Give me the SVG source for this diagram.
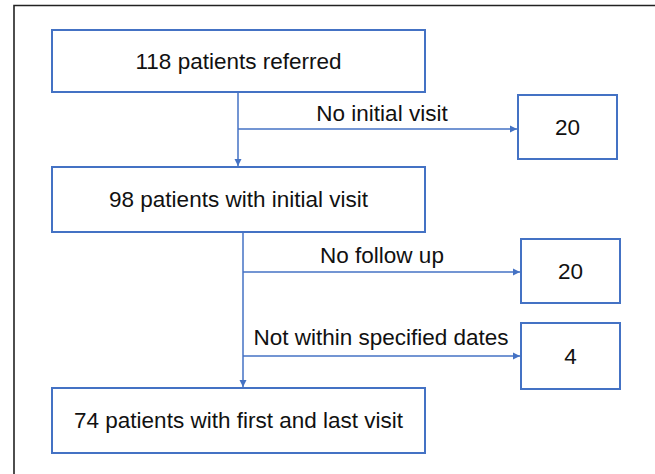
<svg xmlns="http://www.w3.org/2000/svg" width="655" height="474" viewBox="0 0 655 474">
<style>
.box{fill:#fff;stroke:#4472C4;stroke-width:2}
.t{font-family:"Liberation Sans",Arial,sans-serif;font-size:22.5px;fill:#111;text-anchor:middle}
.c{stroke:#4472C4;stroke-width:1.5;fill:none;marker-end:url(#ah)}
.l{stroke:#4472C4;stroke-width:1.5;fill:none}
</style>
<defs>
<marker id="ah" viewBox="0 0 10 10" refX="10" refY="5" markerWidth="5" markerHeight="5" orient="auto" markerUnits="strokeWidth">
<path d="M0,0 L10,5 L0,10 z" fill="#4472C4"/>
</marker>
</defs>
<rect width="655" height="474" fill="#fff"/>
<path d="M14,474 V5.5 H655" fill="none" stroke="#222" stroke-width="1.6"/>
<g id="connectors">
<line class="c" x1="238" y1="92" x2="238" y2="166"/>
<line class="c" x1="238" y1="129" x2="517" y2="129"/>
<line class="c" x1="243" y1="232" x2="243" y2="387"/>
<line class="c" x1="243" y1="272" x2="520" y2="272"/>
<line class="c" x1="243" y1="356" x2="520" y2="356"/>
<text class="t" x="382" y="121">No initial visit</text>
<text class="t" x="382" y="263">No follow up</text>
<text class="t" x="381" y="345">Not within specified dates</text>
</g>
<g id="n1"><rect class="box" x="52" y="30" width="373" height="62"/><text class="t" x="238.5" y="69">118 patients referred</text></g>
<g id="n2"><rect class="box" x="52" y="167" width="373" height="65"/><text class="t" x="238.5" y="207">98 patients with initial visit</text></g>
<g id="n3"><rect class="box" x="52" y="388" width="373" height="65"/><text class="t" x="238.5" y="428">74 patients with first and last visit</text></g>
<g id="n4"><rect class="box" x="518" y="95" width="99" height="64"/><text class="t" x="567.5" y="135">20</text></g>
<g id="n5"><rect class="box" x="521" y="239" width="99" height="64"/><text class="t" x="570.5" y="279">20</text></g>
<g id="n6"><rect class="box" x="521" y="323" width="99" height="66"/><text class="t" x="570.5" y="364">4</text></g>
</svg>
